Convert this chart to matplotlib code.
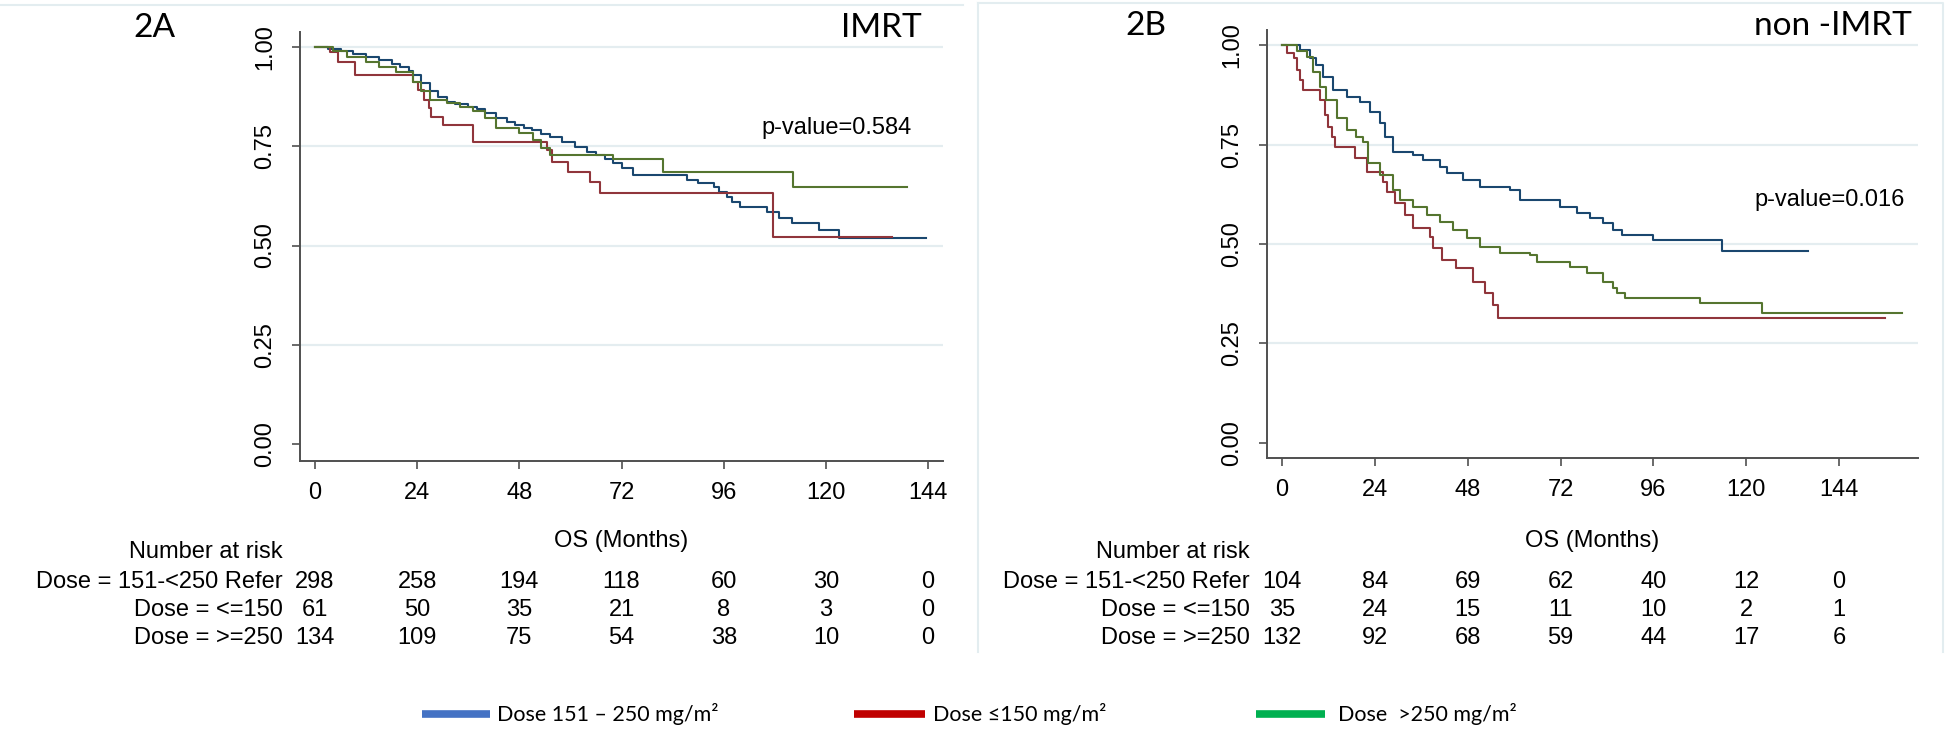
import matplotlib
matplotlib.use("Agg")
import matplotlib.pyplot as plt
import matplotlib.transforms as mtransforms
from matplotlib.lines import Line2D

# ---------------- data ----------------
time_ticks = [0, 24, 48, 72, 96, 120, 144]
y_ticks = [0.00, 0.25, 0.50, 0.75, 1.00]

# 2A IMRT - Kaplan-Meier steps (time in months, survival)
imrt_ref_t = [0, 3, 6, 9, 12, 15, 18, 20, 22, 23, 25, 27, 29, 31, 33, 36, 38, 40, 42.6, 45, 47, 49,
              51, 53, 55.3, 58, 61, 64, 66, 68, 70, 72, 74.8, 87.4, 90, 93.6, 95, 96.8, 98, 99.9,
              106.2, 109, 112, 118.3, 123, 143.4]
imrt_ref_s = [1.0, 0.995, 0.99, 0.982, 0.975, 0.968, 0.958, 0.95, 0.94, 0.93, 0.91, 0.89, 0.875,
              0.862, 0.857, 0.85, 0.845, 0.835, 0.82, 0.81, 0.803, 0.796, 0.79, 0.782, 0.774, 0.76,
              0.748, 0.736, 0.728, 0.718, 0.707, 0.695, 0.678, 0.665, 0.658, 0.648, 0.636, 0.622,
              0.61, 0.597, 0.585, 0.57, 0.556, 0.539, 0.519, 0.519]
imrt_low_t = [0, 3.5, 5.4, 9.4, 23, 24.3, 25.5, 26.7, 27.2, 30, 37, 54.5, 55.7, 59.5, 64.6, 67,
              107.6, 135.6]
imrt_low_s = [1.0, 0.987, 0.962, 0.929, 0.912, 0.892, 0.866, 0.846, 0.824, 0.804, 0.761, 0.74,
              0.71, 0.685, 0.66, 0.632, 0.521, 0.521]
imrt_high_t = [0, 4.3, 7.5, 12, 15, 19, 23, 25, 27, 31, 34, 37, 40, 42.6, 48, 51.3, 53, 55.3, 70,
               81.8, 112.3, 139.1]
imrt_high_s = [1.0, 0.99, 0.975, 0.963, 0.95, 0.937, 0.912, 0.89, 0.866, 0.858, 0.85, 0.84, 0.82,
               0.796, 0.783, 0.766, 0.745, 0.728, 0.717, 0.686, 0.648, 0.648]

# 2B non-IMRT
non_ref_t = [0, 4.7, 7.2, 8.9, 10.6, 13.2, 16.7, 20.2, 22.8, 25.4, 26.6, 28.7, 33.9, 36.5, 40.8,
             42.6, 46.9, 51.2, 58.9, 61.5, 71.8, 76.2, 79.6, 83, 85.6, 87.9, 95.9, 113.7, 135.9]
non_ref_s = [1.0, 0.987, 0.967, 0.95, 0.92, 0.887, 0.87, 0.857, 0.832, 0.804, 0.77, 0.73, 0.724,
             0.711, 0.694, 0.678, 0.66, 0.643, 0.636, 0.611, 0.593, 0.578, 0.565, 0.553, 0.535,
             0.523, 0.51, 0.483, 0.483]
non_low_t = [0, 1.3, 3, 3.9, 4.7, 5.5, 9.8, 11.1, 11.9, 13, 13.7, 18.9, 22, 26.1, 27.1, 29.2, 31.8,
             33.9, 38.2, 39, 41.3, 45, 49.4, 52.5, 54.6, 55.8, 155.8]
non_low_s = [1.0, 0.98, 0.967, 0.937, 0.912, 0.887, 0.862, 0.824, 0.794, 0.769, 0.744, 0.716,
             0.681, 0.656, 0.631, 0.603, 0.573, 0.54, 0.518, 0.49, 0.46, 0.44, 0.405, 0.377,
             0.347, 0.314, 0.314]
non_high_t = [0, 3.9, 6.4, 8.1, 9.8, 11.5, 14.1, 16.7, 19, 21, 22.3, 25.4, 28.7, 30.5, 33.9, 37.4,
              40.8, 44.2, 47.8, 51.2, 56.3, 64.1, 65.9, 74.4, 78.8, 83, 85.6, 86.5, 88.6, 108, 124,
              160.2]
non_high_s = [1.0, 0.985, 0.97, 0.932, 0.895, 0.862, 0.816, 0.786, 0.77, 0.757, 0.703, 0.673,
              0.636, 0.611, 0.593, 0.573, 0.556, 0.535, 0.515, 0.493, 0.478, 0.472, 0.455, 0.443,
              0.427, 0.405, 0.389, 0.376, 0.364, 0.352, 0.327, 0.327]

risk_labels = ["Dose = 151-<250 Refer", "Dose = <=150", "Dose = >=250"]
imrt_risk_ref = [298, 258, 194, 118, 60, 30, 0]
imrt_risk_low = [61, 50, 35, 21, 8, 3, 0]
imrt_risk_high = [134, 109, 75, 54, 38, 10, 0]
non_risk_ref = [104, 84, 69, 62, 40, 12, 0]
non_risk_low = [35, 24, 15, 11, 10, 2, 1]
non_risk_high = [132, 92, 68, 59, 44, 17, 6]

panel_tags = ["2A", "2B"]
panel_titles = ["IMRT", "non -IMRT"]
p_values = ["p-value=0.584", "p-value=0.016"]
legend_labels = ["Dose 151 \u2013 250 mg/m\u00b2", "Dose \u2264150 mg/m\u00b2", "Dose  >250 mg/m\u00b2"]

# ---------------- style ----------------
W, H, DPI = 1946, 743, 100
curve_colors = ["#1a476f", "#90353b", "#55752f"]
legend_colors = ["#4472c4", "#c00000", "#00b050"]
axis_col = "#505050"
grid_col = "#e4edf0"
frame_col = "#e3edf0"
SANS = ["Liberation Sans", "DejaVu Sans"]
CAL = ["Lato", "DejaVu Sans"]
plt.rcParams["font.family"] = SANS


def fx(px):
    return px / W


def fy(py):
    return 1 - py / H


fig = plt.figure(figsize=(W / DPI, H / DPI), dpi=DPI)
fig.patch.set_facecolor("white")

# faint panel frames
fig.add_artist(Line2D([fx(0), fx(963)], [fy(5), fy(5)], color=frame_col, lw=1.5))
fig.add_artist(Line2D([fx(978), fx(1943), fx(1943)], [fy(3), fy(3), fy(652)], color=frame_col, lw=1.5))
fig.add_artist(Line2D([fx(978), fx(978)], [fy(3), fy(652)], color=frame_col, lw=1.5))

panels = [
    dict(rect=[fx(300), fy(461), fx(943) - fx(300), fy(32) - fy(461)], xlim=(-3.52, 147.5),
         ylim=(-0.0428, 1.0378),
         curves=[(imrt_ref_t, imrt_ref_s), (imrt_low_t, imrt_low_s), (imrt_high_t, imrt_high_s)],
         risk=[imrt_risk_ref, imrt_risk_low, imrt_risk_high],
         tag_x=133, title_r=922, title_y=37, pv=(140.2, 0.796)),
    dict(rect=[fx(1267), fy(458), fx(1918) - fx(1267), fy(30) - fy(458)], xlim=(-3.88, 164.4),
         ylim=(-0.0377, 1.0377),
         curves=[(non_ref_t, non_ref_s), (non_low_t, non_low_s), (non_high_t, non_high_s)],
         risk=[non_risk_ref, non_risk_low, non_risk_high],
         tag_x=1125, title_r=1912, title_y=35, pv=(161.1, 0.611)),
]

for i, p in enumerate(panels):
    ax = fig.add_axes(p["rect"])
    ax.set_xlim(*p["xlim"])
    ax.set_ylim(*p["ylim"])
    for v in [0.25, 0.5, 0.75, 1.0]:
        ax.axhline(v, color=grid_col, lw=1.6, zorder=0)
    for (t, s), c in zip(p["curves"], curve_colors):
        ax.step(t, s, where="post", color=c, lw=1.5, zorder=3)
    for sp in ["top", "right"]:
        ax.spines[sp].set_visible(False)
    for sp in ["left", "bottom"]:
        ax.spines[sp].set_color(axis_col)
        ax.spines[sp].set_linewidth(1.4)
    ax.set_xticks(time_ticks)
    ax.set_xticklabels([str(t) for t in time_ticks])
    ax.set_yticks(y_ticks)
    ax.set_yticklabels(["%.2f" % v for v in y_ticks])
    ax.tick_params(axis="both", direction="out", length=6, width=1.2, color=axis_col,
                   labelsize=17, labelcolor="black")
    ax.tick_params(axis="x", pad=9)
    ax.tick_params(axis="y", pad=11)
    for lab in ax.get_yticklabels():
        lab.set_rotation(90)
        lab.set_va("center")
        lab.set_ha("right")
    ax.set_facecolor("none")

    # p-value
    ax.text(p["pv"][0], p["pv"][1], p_values[i], ha="right", va="center", fontsize=17)

    # panel tag and title
    fig.text(fx(p["tag_x"]), fy(p["title_y"]), panel_tags[i], ha="left", va="baseline",
             fontsize=24, family=CAL)
    fig.text(fx(p["title_r"]), fy(p["title_y"]), panel_titles[i], ha="right", va="baseline",
             fontsize=24, family=CAL)

    # x title and risk table
    blend = mtransforms.blended_transform_factory(ax.transData, fig.transFigure)
    xmid = 0.5 * (p["xlim"][0] + p["xlim"][1])
    fig.text(xmid, fy(547), "OS (Months)", transform=blend, ha="center", va="baseline", fontsize=17)
    ax.annotate("Number at risk", xy=(0, fy(558)), xycoords=blend, xytext=(-23, 0),
                textcoords="offset points", ha="right", va="baseline", fontsize=17,
                annotation_clip=False)
    for r, (lab, vals) in enumerate(zip(risk_labels, p["risk"])):
        ybase = fy(588.5 + r * 27.5)
        ax.annotate(lab, xy=(0, ybase), xycoords=blend, xytext=(-23, 0),
                    textcoords="offset points", ha="right", va="baseline", fontsize=17,
                    annotation_clip=False)
        for t, v in zip(time_ticks, vals):
            fig.text(t, ybase, str(v), transform=blend, ha="center", va="baseline", fontsize=17)

# legend (manual)
leg_items = [(422, 490, 497), (854, 925, 933), (1256, 1325, 1338)]
for (x0, x1, xt), lab, c in zip(leg_items, legend_labels, legend_colors):
    fig.add_artist(Line2D([fx(x0), fx(x1)], [fy(714), fy(714)], color=c, lw=5.5,
                          solid_capstyle="butt"))
    fig.text(fx(xt), fy(714), lab, ha="left", va="center", fontsize=15.5, family=CAL)

fig.savefig("out.png", dpi=DPI)
